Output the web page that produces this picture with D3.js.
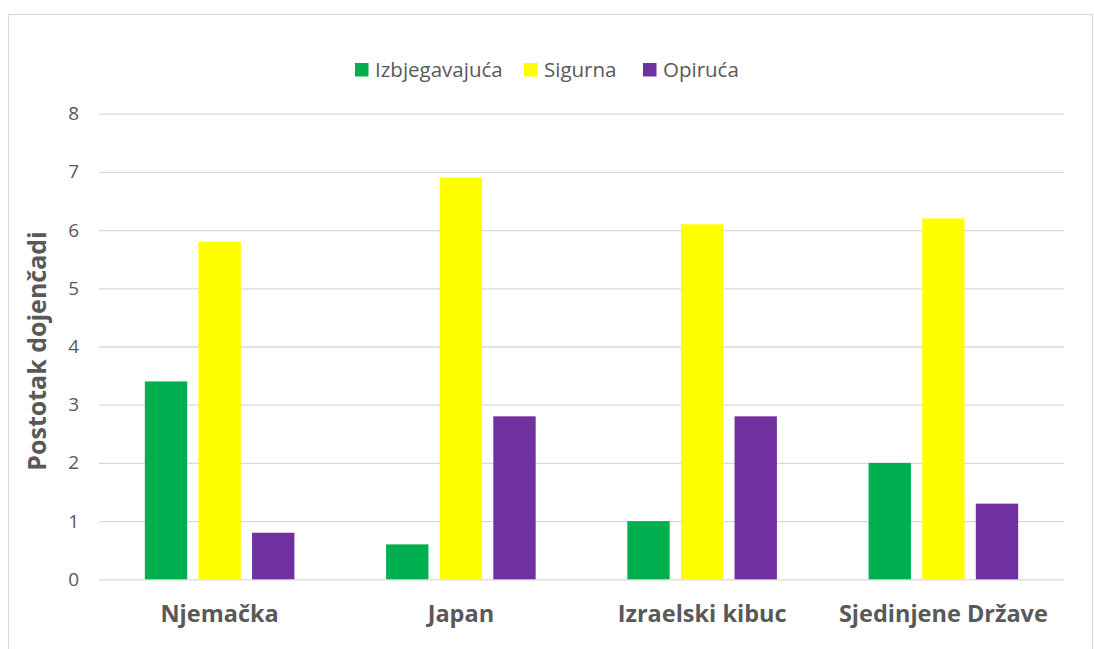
<!DOCTYPE html>
<html><head><meta charset="utf-8">
<script src="https://cdn.jsdelivr.net/npm/d3@7"></script>
<style>body{margin:0;background:#fff}svg{display:block}text{font-family:"Open Sans","Liberation Sans",sans-serif;fill:#595959}</style>
</head><body><svg id="c" width="1094" height="649"></svg>
<script>
const categories = ["Njemačka", "Japan", "Izraelski kibuc", "Sjedinjene Države"];
const seriesNames = ["Izbjegavajuća", "Sigurna", "Opiruća"];
const seriesColors = ["#00B050", "#FFFF00", "#7030A0"];
const izbjegavajuca = [3.4, 0.6, 1.0, 2.0];
const sigurna = [5.8, 6.9, 6.1, 6.2];
const opiruca = [0.8, 2.8, 2.8, 1.3];
const yTicks = [0, 1, 2, 3, 4, 5, 6, 7, 8];
const yTitle = "Postotak dojenčadi";

const series = [izbjegavajuca, sigurna, opiruca];
const svg = d3.select("#c");
svg.append("rect").attr("x", 8.5).attr("y", 14.5).attr("width", 1084).attr("height", 640)
  .attr("fill", "#fff").attr("stroke", "#D9D9D9");

const pL = 99, pR = 1064, pT = 113.7, pB = 579.3;
const y = d3.scaleLinear().domain([0, 8]).range([pB, pT]);
const x0 = d3.scaleBand().domain(categories).range([pL, pR]).paddingInner(0.38).paddingOuter(0.19);
const x1 = d3.scaleBand().domain(d3.range(3)).range([0, x0.bandwidth()]).paddingInner(0.21);

const yAxis = d3.axisLeft(y).tickValues(yTicks).tickSize(-(pR - pL)).tickPadding(20);
const gy = svg.append("g").attr("transform", `translate(${pL},0)`).call(yAxis);
gy.select(".domain").remove();
gy.selectAll(".tick line").attr("stroke", "#D9D9D9").attr("stroke-width", 1.3);
gy.selectAll(".tick text").attr("font-size", 19).style("fill", "#595959");

const g = svg.append("g");
categories.forEach((c, i) => {
  series.forEach((s, j) => {
    g.append("rect")
      .attr("x", x0(c) + x1(j)).attr("width", x1.bandwidth())
      .attr("y", y(s[i])).attr("height", y(0) - y(s[i]))
      .attr("fill", seriesColors[j]);
  });
});

const xAxis = d3.axisBottom(x0).tickSize(0).tickPadding(26);
const gx = svg.append("g").attr("transform", `translate(0,${pB})`).call(xAxis);
gx.select(".domain").remove();
gx.selectAll(".tick text").attr("font-size", 23.5).attr("font-weight", "bold").style("fill", "#595959");

svg.append("text").attr("transform", `translate(46,351) rotate(-90)`)
  .attr("text-anchor", "middle").attr("font-size", 25).attr("font-weight", "bold").text(yTitle);

const legX = [355, 524, 643];
seriesNames.forEach((n, j) => {
  svg.append("rect").attr("x", legX[j]).attr("y", 63).attr("width", 13.5).attr("height", 13.5).attr("fill", seriesColors[j]);
  svg.append("text").attr("x", legX[j] + 20).attr("y", 77).attr("font-size", 20.5).text(n);
});
</script></body></html>
